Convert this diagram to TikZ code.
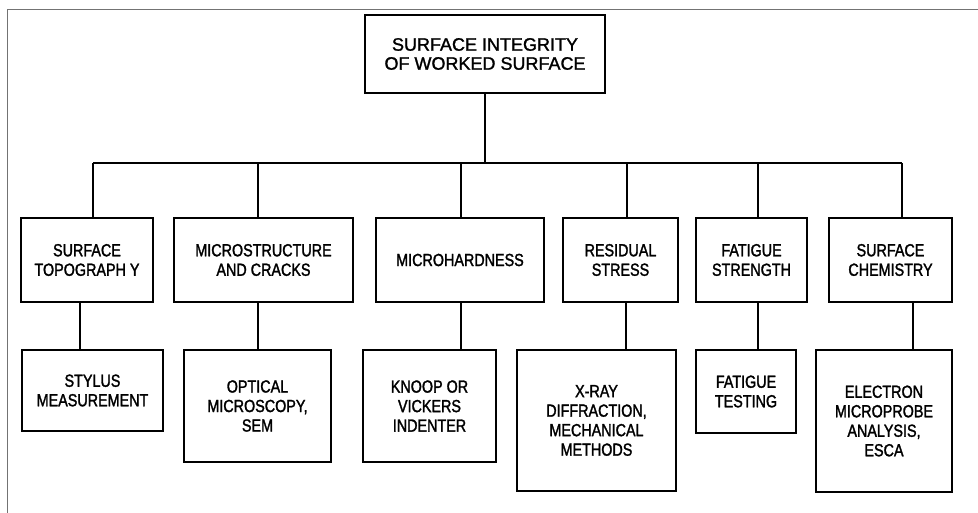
\documentclass[tikz,border=0pt]{standalone}
\usepackage{fontspec}
\setmainfont{Liberation Sans}
\newfontfamily\condf[FakeStretch=0.82, FakeBold=1.6]{Liberation Sans}
\newfontfamily\topf[FakeBold=1.4]{Liberation Sans}
\begin{document}
\begin{tikzpicture}[x=1pt,y=-1pt,
  box/.style={draw=black, line width=2.8pt, rectangle, align=center, inner sep=0pt,
    font=\condf\fontsize{17.5}{19.5}\selectfont},
  topbox/.style={box, font=\topf\fontsize{18}{19}\selectfont},
  conn/.style={draw=black, line width=2pt},
  frame/.style={draw=black!55, line width=0.9pt}]
\useasboundingbox (0,0) rectangle (978,513);
\fill[white] (0,0) rectangle (978,513);
\coordinate (fTL) at (7,9);
\coordinate (fTR) at (978,9);
\coordinate (fBL) at (7,513);
\draw[frame] (fBL) -- (fTL) -- (fTR);
% top
\node[topbox, minimum width=240, minimum height=78] (top) at (485,54) {SURFACE INTEGRITY\\OF WORKED SURFACE};
% level 1
\node[box, minimum width=132, minimum height=84] (a1) at (87,260) {SURFACE\\TOPOGRAPH Y};
\node[box, minimum width=179, minimum height=84] (b1) at (263.5,260) {MICROSTRUCTURE\\AND CRACKS};
\node[box, minimum width=168, minimum height=84] (c1) at (460,260) {MICROHARDNESS};
\node[box, minimum width=115, minimum height=84] (d1) at (620.5,260) {RESIDUAL\\STRESS};
\node[box, minimum width=111, minimum height=84] (e1) at (751.5,260) {FATIGUE\\STRENGTH};
\node[box, minimum width=123, minimum height=84] (f1) at (890.5,260) {SURFACE\\CHEMISTRY};
% level 2
\node[box, minimum width=141, minimum height=81] (a2) at (92.5,390.5) {STYLUS\\MEASUREMENT};
\node[box, minimum width=147, minimum height=112] (b2) at (257.5,406) {OPTICAL\\MICROSCOPY,\\SEM};
\node[box, minimum width=133, minimum height=112] (c2) at (429.5,406) {KNOOP OR\\VICKERS\\INDENTER};
\node[box, minimum width=159, minimum height=141] (d2) at (596.5,420.5) {X-RAY\\DIFFRACTION,\\MECHANICAL\\METHODS};
\node[box, minimum width=100, minimum height=83] (e2) at (746,391.5) {FATIGUE\\TESTING};
\node[box, minimum width=136, minimum height=142] (f2) at (884,421) {ELECTRON\\MICROPROBE\\ANALYSIS,\\ESCA};
% bar coordinates
\coordinate (j0) at (485,163);
\coordinate (ja) at (93,163);
\coordinate (jb) at (258,163);
\coordinate (jc) at (461,163);
\coordinate (jd) at (627,163);
\coordinate (je) at (758,163);
\coordinate (jf) at (902,163);
% lower connector x positions
\coordinate (ka) at (80,0);
\coordinate (kb) at (258,0);
\coordinate (kc) at (461,0);
\coordinate (kd) at (626,0);
\coordinate (ke) at (758,0);
\coordinate (kf) at (913,0);
\draw[conn] (top.south) -- (j0);
\draw[conn] (ja) -- (jf);
\draw[conn] (ja) -- (ja |- a1.north);
\draw[conn] (jb) -- (jb |- b1.north);
\draw[conn] (jc) -- (jc |- c1.north);
\draw[conn] (jd) -- (jd |- d1.north);
\draw[conn] (je) -- (je |- e1.north);
\draw[conn] (jf) -- (jf |- f1.north);
\draw[conn] (a1.south -| ka) -- (a2.north -| ka);
\draw[conn] (b1.south -| kb) -- (b2.north -| kb);
\draw[conn] (c1.south -| kc) -- (c2.north -| kc);
\draw[conn] (d1.south -| kd) -- (d2.north -| kd);
\draw[conn] (e1.south -| ke) -- (e2.north -| ke);
\draw[conn] (f1.south -| kf) -- (f2.north -| kf);
\end{tikzpicture}
\end{document}
